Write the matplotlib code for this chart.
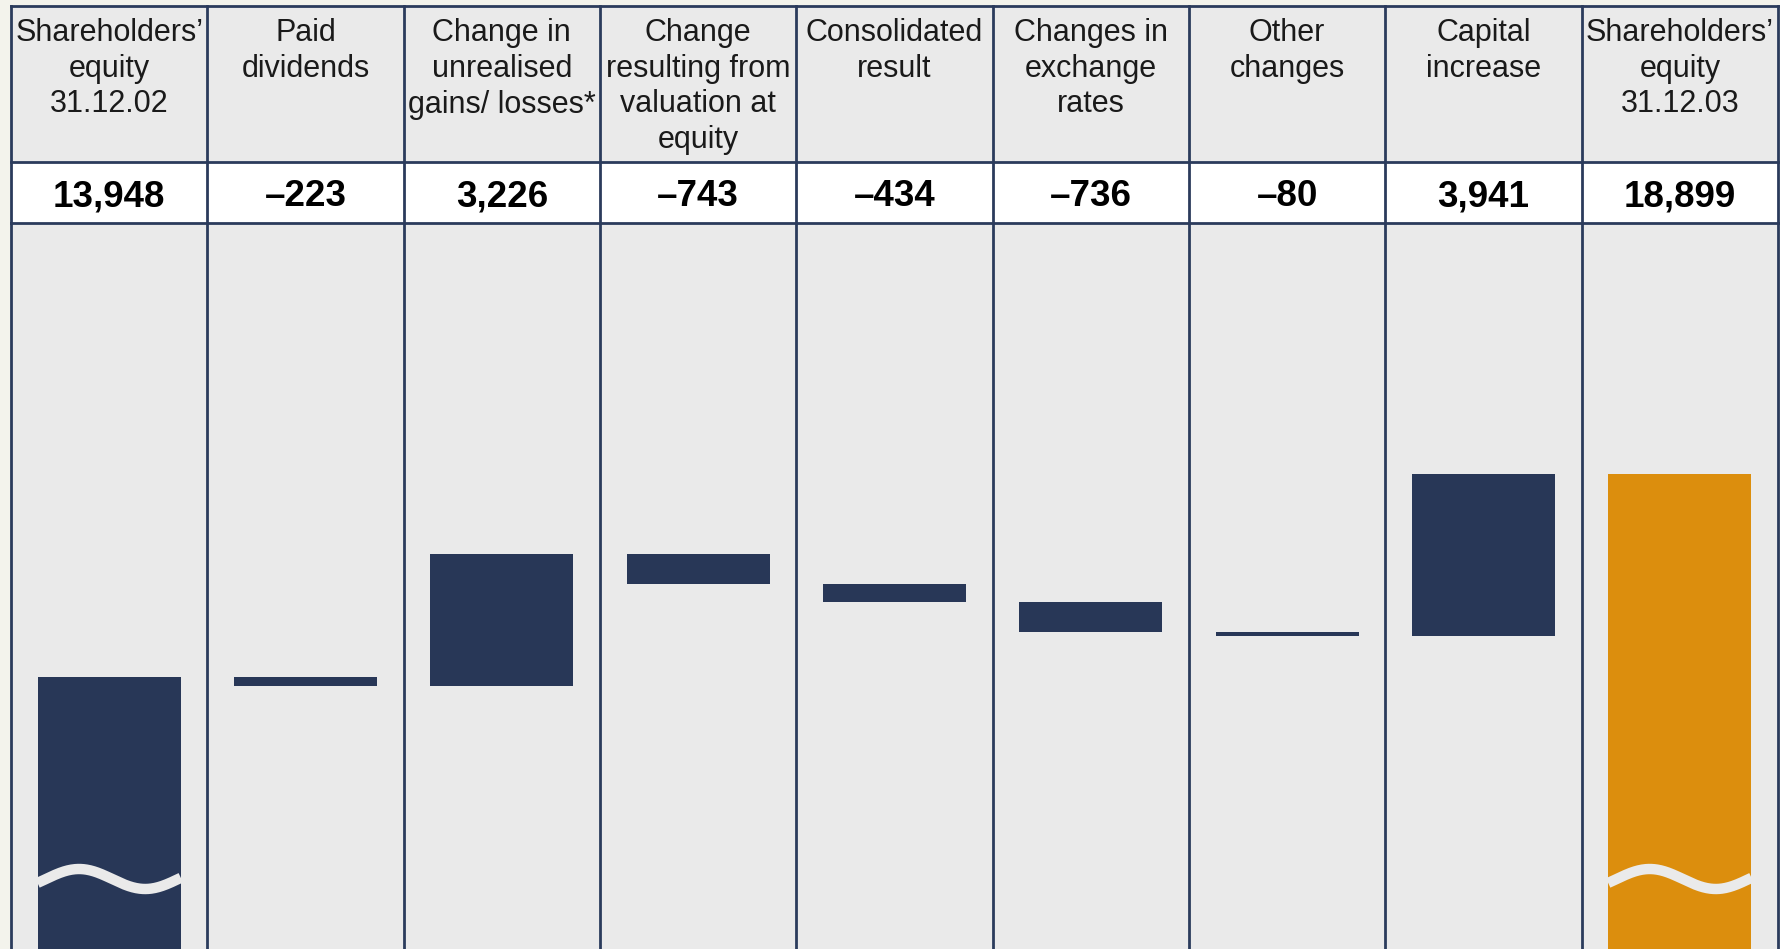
import numpy as np
import matplotlib
matplotlib.use('Agg')
import matplotlib.pyplot as plt

plt.rcParams['font.family'] = ['Liberation Sans', 'DejaVu Sans']

# column headings and the movements in shareholders' equity (EUR m)
headings = [
    'Shareholders’\nequity\n31.12.02',
    'Paid\ndividends',
    'Change in\nunrealised\ngains/ losses*',
    'Change\nresulting from\nvaluation at\nequity',
    'Consolidated\nresult',
    'Changes in\nexchange\nrates',
    'Other\nchanges',
    'Capital\nincrease',
    'Shareholders’\nequity\n31.12.03',
]
values = [13948, -223, 3226, -743, -434, -736, -80, 3941, 18899]
is_total = [True, False, False, False, False, False, False, False, True]

NAVY = '#283757'
ORANGE = '#DC8E0D'
CELL = '#EAEAEA'
LINE = '#2B3B5C'

W, H = 1781, 949
fig = plt.figure(figsize=(W / 100, H / 100), dpi=100, facecolor='#F3F3EC')

left, right = 11, 1778
top, mid, base = 6, 162, 223


def rect(x0, y0, x1, y1):
    return [x0 / W, 1 - y1 / H, (x1 - x0) / W, (y1 - y0) / H]


n = len(values)

# waterfall area
ax = fig.add_axes(rect(left, base, right, H))
ax.set_xlim(-0.5, n - 0.5)
ax.set_ylim(7330, 25000)
ax.set_facecolor(CELL)
ax.set_xticks([])
ax.set_yticks([])
for s in ax.spines.values():
    s.set_visible(False)
for k in range(n + 1):
    ax.axvline(k - 0.5, color=LINE, lw=2, clip_on=False)

width = 0.73
running = 0
for i, v in enumerate(values):
    if is_total[i]:
        bottom, height = 0, v
        running = v
    else:
        bottom, height = running, v
        running += v
    color = ORANGE if i == n - 1 else NAVY
    ax.bar(i, height, bottom=bottom, width=width, color=color, lw=0)

# axis-break waves on the two total bars
units_per_px = (25000 - 7330) / (H - base)
y_c = 25000 - (879 - base) * units_per_px
amp = 10 * units_per_px
for i in [j for j in range(n) if is_total[j]]:
    x = np.linspace(i - width / 2, i + width / 2, 200)
    t = (x - x[0]) / width
    y = y_c + amp * np.sin(2 * np.pi * (t - 0.29) / 0.923 + np.pi / 2)
    ax.plot(x, y, color=CELL, lw=7.5, solid_capstyle='butt')

# header block on top: y in pixel rows so the text is easy to place
hdr = fig.add_axes(rect(left, top, right, base))
hdr.set_zorder(3)
hdr.set_xlim(-0.5, n - 0.5)
hdr.set_ylim(base, top)
hdr.axis('off')
hdr.axhspan(top, mid, color=CELL, lw=0)
hdr.axhspan(mid, base, color='white', lw=0)
for y in (top, mid, base):
    hdr.axhline(y, color=LINE, lw=2, clip_on=False)
for k in range(n + 1):
    hdr.axvline(k - 0.5, color=LINE, lw=2, clip_on=False)


def fmt(v):
    s = f'{abs(v):,}'
    return '–' + s if v < 0 else s


for i, (h, v) in enumerate(zip(headings, values)):
    hdr.text(i, 18, h, ha='center', va='top', fontsize=22,
             linespacing=1.25, color='#1A1A1A')
    hdr.text(i, 197, fmt(v), ha='center', va='center', fontsize=26.5,
             fontweight='bold', color='black')

fig.savefig('out.png', dpi=100, facecolor=fig.get_facecolor())
